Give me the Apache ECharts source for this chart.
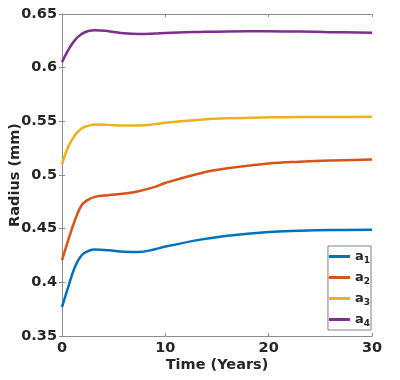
<!DOCTYPE html>
<html>
<head>
<meta charset="utf-8">
<script src="https://cdn.jsdelivr.net/npm/echarts@6/dist/echarts.min.js"></script>
<style>html,body{margin:0;padding:0;background:#fff}#c{width:400px;height:380px}</style>
</head>
<body>
<div id="c"></div>
<script>
var times = [0, 0.6, 1.25, 1.9, 2.55, 3.2, 4.5, 6, 7.4, 9, 10, 13.4, 16, 20, 23, 26, 30];
var a1 = [0.377, 0.3956, 0.4143, 0.4252, 0.4292, 0.4305, 0.4299, 0.4285, 0.4283, 0.4308, 0.4333, 0.4398, 0.4435, 0.4469, 0.4480, 0.4487, 0.4491];
var a2 = [0.4205, 0.4392, 0.4578, 0.4718, 0.4771, 0.4796, 0.4812, 0.4827, 0.4849, 0.4889, 0.4926, 0.5017, 0.5062, 0.5107, 0.5124, 0.5135, 0.5144];
var a3 = [0.510, 0.5262, 0.5371, 0.5434, 0.5458, 0.5471, 0.5467, 0.5461, 0.5461, 0.5474, 0.5486, 0.5515, 0.5528, 0.5537, 0.5540, 0.5541, 0.5542];
var a4 = [0.605, 0.6164, 0.6257, 0.6313, 0.6341, 0.6348, 0.6340, 0.6320, 0.6313, 0.6318, 0.6324, 0.6333, 0.6338, 0.6340, 0.6336, 0.6331, 0.6326];
var seriesNames = ['a1', 'a2', 'a3', 'a4'];
var seriesData = [a1, a2, a3, a4];
var colors = ['#0072BD', '#D95319', '#EDB120', '#7E2F8E'];
var xTicks = [0, 10, 20, 30];
var yTicks = [0.35, 0.4, 0.45, 0.5, 0.55, 0.6, 0.65];

var chart = echarts.init(document.getElementById('c'));
var font = 'DejaVu Sans';
var axisGray = '#8c8c8c';
var labelColor = '#262626';

function pairs(arr) { return times.map(function (t, i) { return [t, arr[i]]; }); }

var series = seriesNames.map(function (n, i) {
  return {
    name: n, type: 'line', xAxisIndex: 0, yAxisIndex: 0,
    data: pairs(seriesData[i]), smooth: 0.4, symbol: 'none',
    lineStyle: { width: 2.5, color: colors[i] }, itemStyle: { color: colors[i] }
  };
});

chart.setOption({
  animation: false,
  grid: { left: 62, right: 28, top: 14, bottom: 44, outerBoundsMode: 'none', containLabel: false },
  legend: {
    orient: 'vertical', right: 29, bottom: 50,
    data: seriesNames,
    icon: 'rect', itemWidth: 21, itemHeight: 3, itemGap: 6,
    backgroundColor: '#fff', borderColor: '#808080', borderWidth: 1,
    padding: [4, 1, 2, 1],
    formatter: function (name) { return '{b|a}{s|' + name.slice(1) + '}'; },
    textStyle: {
      rich: {
        b: { fontFamily: font, fontWeight: 'bold', fontSize: 13, color: labelColor },
        s: { fontFamily: font, fontWeight: 'bold', fontSize: 9, color: labelColor, padding: [8, 0, 0, 0] }
      }
    }
  },
  xAxis: [{
    type: 'value', min: 0, max: 30, interval: 10,
    name: 'Time (Years)', nameLocation: 'middle', nameGap: 22, nameMoveOverlap: false,
    nameTextStyle: { fontFamily: font, fontWeight: 'bold', fontSize: 14.5, color: labelColor },
    axisLine: { show: true, lineStyle: { color: axisGray, width: 1 } },
    axisTick: { show: true, inside: true, length: 3, lineStyle: { color: axisGray } },
    axisLabel: { fontFamily: font, fontWeight: 'bold', fontSize: 14.5, color: labelColor, margin: 5,
      formatter: function (v) { return xTicks.indexOf(v) >= 0 ? String(v) : ''; } },
    splitLine: { show: false }
  }, {
    type: 'value', position: 'top', min: 0, max: 30, interval: 10,
    axisLine: { show: true, lineStyle: { color: axisGray, width: 1 } },
    axisTick: { show: true, inside: true, length: 3, lineStyle: { color: axisGray } },
    axisLabel: { show: false }, splitLine: { show: false }
  }],
  yAxis: [{
    type: 'value', min: 0.35, max: 0.65, interval: 0.05,
    name: 'Radius (mm)', nameLocation: 'middle', nameGap: 39, nameMoveOverlap: false,
    nameTextStyle: { fontFamily: font, fontWeight: 'bold', fontSize: 14.5, color: labelColor },
    axisLine: { show: true, lineStyle: { color: axisGray, width: 1 } },
    axisTick: { show: true, inside: true, length: 3, lineStyle: { color: axisGray } },
    axisLabel: { fontFamily: font, fontWeight: 'bold', fontSize: 14.5, color: labelColor, margin: 5,
      formatter: function (v) {
        var r = Math.round(v * 100) / 100;
        return yTicks.indexOf(r) >= 0 ? String(r) : '';
      } },
    splitLine: { show: false }
  }, {
    type: 'value', position: 'right', min: 0.35, max: 0.65, interval: 0.05,
    axisLine: { show: true, lineStyle: { color: axisGray, width: 1 } },
    axisTick: { show: true, inside: true, length: 3, lineStyle: { color: axisGray } },
    axisLabel: { show: false }, splitLine: { show: false }
  }],
  series: series
});
</script>
</body>
</html>
